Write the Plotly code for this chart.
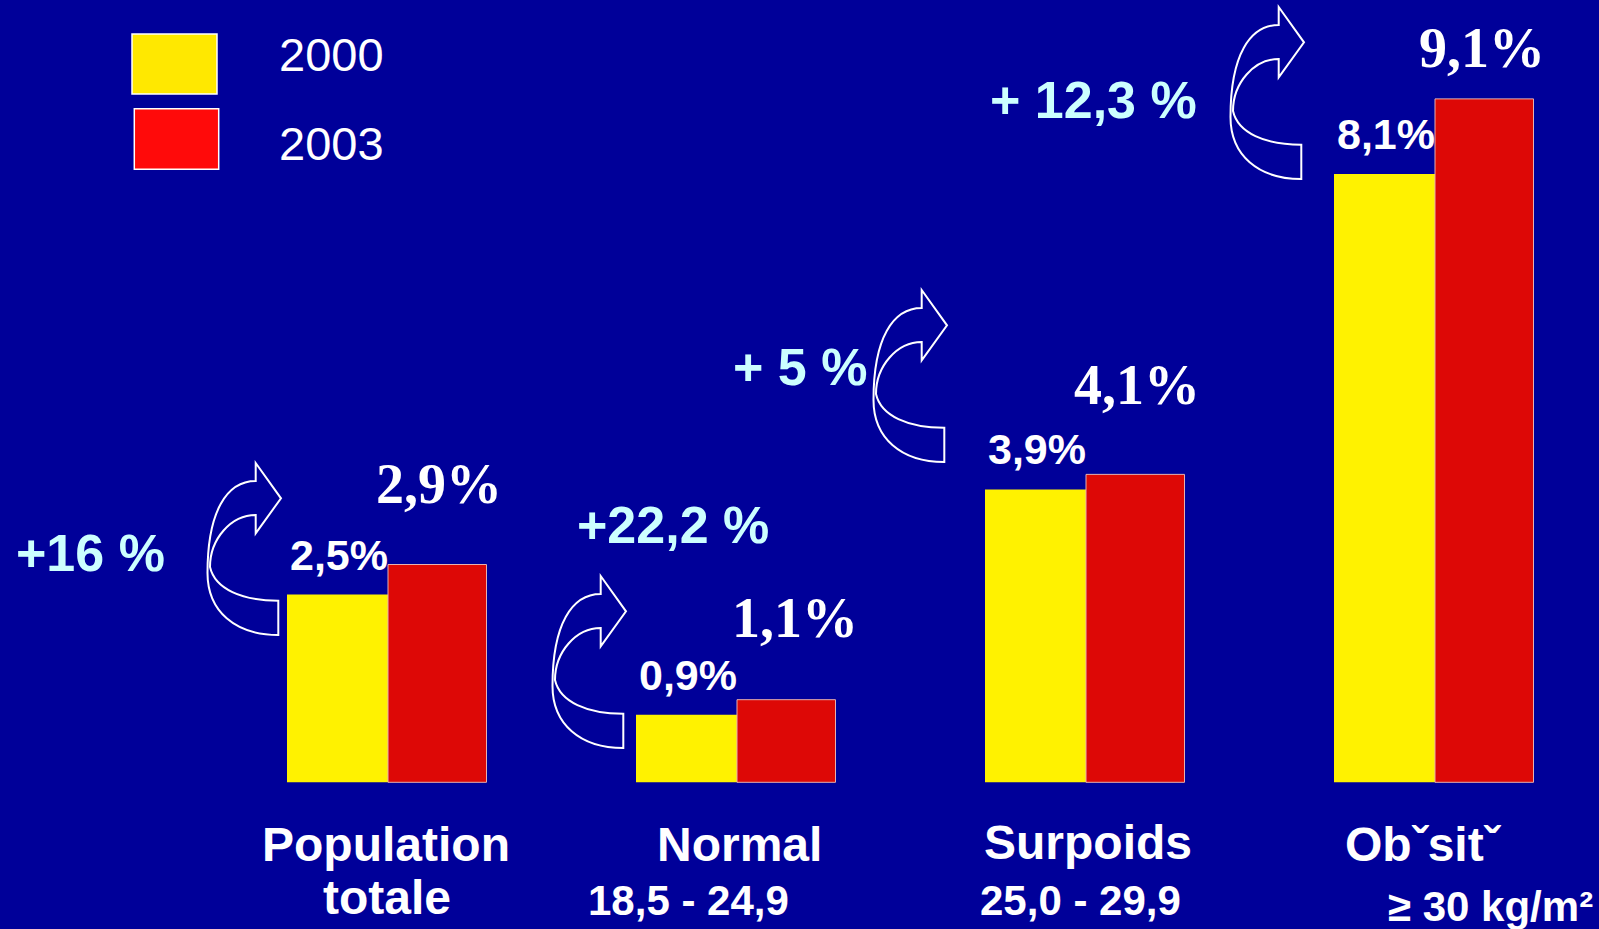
import plotly.graph_objects as go

# ---- data -------------------------------------------------------------
cat_line1 = ["Population", "Normal", "Surpoids", "Obˇsitˇ"]
cat_line2 = ["totale", "18,5 - 24,9", "25,0 - 29,9", "≥ 30 kg/m²"]
years = ["2000", "2003"]
values_2000 = [2.5, 0.9, 3.9, 8.1]
values_2003 = [2.9, 1.1, 4.1, 9.1]
changes = ["+16 %", "+22,2 %", "+ 5 %", "+ 12,3 %"]

# ---- layout constants (pixels) ----------------------------------------
W, H = 1599, 929
BG = "#000099"
YELLOW = "#FFF200"
RED = "#DD0806"
CYAN = "#CCFFFF"
SANS = "Liberation Sans, Arial, sans-serif"
SERIF = "Liberation Serif, Times New Roman, serif"

CAT_PX = 349.0      # pixels between category centres
X0_PX = 388.0       # pixel position of first category centre
BASE_PX = 782.3     # pixel row of the zero line
UNIT_PX = 75.1      # pixels per percentage point

W_2000 = 101.0 / CAT_PX
W_2003 = 98.5 / CAT_PX

x_idx = list(range(len(cat_line1)))


def fmt(v):
    return f"{v:.1f}%".replace(".", ",")


def px(xp, yp):
    """pixel -> paper coordinates"""
    return xp / W, 1 - yp / H


fig = go.Figure()

fig.add_trace(go.Bar(
    x=x_idx, y=values_2000, name=years[0],
    width=W_2000, offset=-W_2000,
    marker=dict(color=YELLOW, line=dict(width=0)),
    showlegend=False, hoverinfo="skip",
))
fig.add_trace(go.Bar(
    x=x_idx, y=values_2003, name=years[1],
    width=W_2003, offset=0,
    marker=dict(color=RED, line=dict(color="#E6B0B0", width=1)),
    showlegend=False, hoverinfo="skip",
))

annotations = []
shapes = []

# value labels for 2000 (right-aligned against the 2003 bar)
for i, v in zip(x_idx, values_2000):
    annotations.append(dict(
        x=i, y=v, xref="x", yref="y", text=fmt(v), showarrow=False,
        xanchor="right", yanchor="middle", yshift=40, xshift=2,
        font=dict(family=SANS, size=43, color="white", weight="bold"),
    ))

# value labels for 2003 (serif, above the red bar)
lab03_dx = [2, 9, 2, -2]
lab03_dy = [81, 82, 89, 51]
for i, v, dx, dy in zip(x_idx, values_2003, lab03_dx, lab03_dy):
    annotations.append(dict(
        x=i + W_2003 / 2, y=v, xref="x", yref="y", text=fmt(v),
        showarrow=False, xanchor="center", yanchor="middle",
        xshift=dx, yshift=dy,
        font=dict(family=SERIF, size=56, color="white", weight="bold"),
    ))

# category labels below the bars
line1_dx = [-2, 2.5, 1.5, -11.5]
line1_y = [844, 844, 842.5, 844]
line2_dx = [-1.3, -49, -6, 55.5]
line2_y = [897.5, 900, 900, 906.7]
line2_size = [48, 42, 42, 42]
for i in x_idx:
    annotations.append(dict(
        x=i, y=px(0, line1_y[i])[1], xref="x", yref="paper",
        text=cat_line1[i], showarrow=False, xanchor="center",
        yanchor="middle", xshift=line1_dx[i],
        font=dict(family=SANS, size=48, color="white", weight="bold"),
    ))
    annotations.append(dict(
        x=i, y=px(0, line2_y[i])[1], xref="x", yref="paper",
        text=cat_line2[i], showarrow=False, xanchor="center",
        yanchor="middle", xshift=line2_dx[i],
        font=dict(family=SANS, size=line2_size[i], color="white",
                  weight="bold"),
    ))

# relative change labels
change_pos = [(90, 552.5), (673, 525), (799.5, 367), (1093.3, 99.5)]
for txt, (cx, cy) in zip(changes, change_pos):
    xp, yp = px(cx, cy)
    annotations.append(dict(
        x=xp, y=yp, xref="paper", yref="paper", text=txt, showarrow=False,
        xanchor="center", yanchor="middle",
        font=dict(family=SANS, size=52, color=CYAN, weight="bold"),
    ))

# curved arrows (outline), local geometry in pixels
ARROW = [
    ("M", [(71.3, 172)]),
    ("C", [(28, 172), (0.5, 148), (0.5, 110)]),
    ("C", [(0.5, 48), (20, 18), (48.7, 18)]),
    ("L", [(48.7, 0)]),
    ("L", [(74, 35.3)]),
    ("L", [(48.7, 70.3)]),
    ("L", [(48.7, 52)]),
    ("C", [(24, 52), (3, 76), (3, 104)]),
    ("C", [(8, 126), (35, 137.7), (71.3, 137.7)]),
]
arrow_origin = [(207, 463), (552, 576), (873, 290), (1230, 7)]


def arrow_path(ox, oy):
    parts = []
    for cmd, pts in ARROW:
        coords = []
        for u, v in pts:
            xp, yp = px(ox + u, oy + v)
            coords.append(f"{xp:.5f},{yp:.5f}")
        parts.append(cmd + " " + " ".join(coords))
    return " ".join(parts) + " Z"


for ox, oy in arrow_origin:
    shapes.append(dict(
        type="path", xref="paper", yref="paper", path=arrow_path(ox, oy),
        line=dict(color="white", width=2), fillcolor=BG, layer="above",
    ))

# legend swatches and labels
legend_boxes = [((132, 34), (217, 94), "#FFE800"),
                ((134.3, 108.7), (218.7, 169.3), "#FF0A0A")]
legend_text_y = [55, 143.3]
for ((x0, y0), (x1, y1), col), name, ty in zip(legend_boxes, years,
                                              legend_text_y):
    a0, b0 = px(x0, y0)
    a1, b1 = px(x1, y1)
    shapes.append(dict(
        type="rect", xref="paper", yref="paper", x0=a0, y0=b0, x1=a1, y1=b1,
        fillcolor=col, line=dict(color="white", width=1.5),
    ))
    tx, tyy = px(331.5, ty)
    annotations.append(dict(
        x=tx, y=tyy, xref="paper", yref="paper", text=name, showarrow=False,
        xanchor="center", yanchor="middle",
        font=dict(family=SANS, size=47, color="white"),
    ))

fig.update_layout(
    width=W, height=H,
    margin=dict(l=0, r=0, t=0, b=0),
    paper_bgcolor=BG, plot_bgcolor=BG,
    barmode="overlay",
    xaxis=dict(range=[-X0_PX / CAT_PX, (W - X0_PX) / CAT_PX],
               visible=False, fixedrange=True),
    yaxis=dict(range=[-(H - BASE_PX) / UNIT_PX, BASE_PX / UNIT_PX],
               visible=False, fixedrange=True),
    annotations=annotations,
    shapes=shapes,
    showlegend=False,
)

fig.write_html("out.html", config={"displayModeBar": False})
